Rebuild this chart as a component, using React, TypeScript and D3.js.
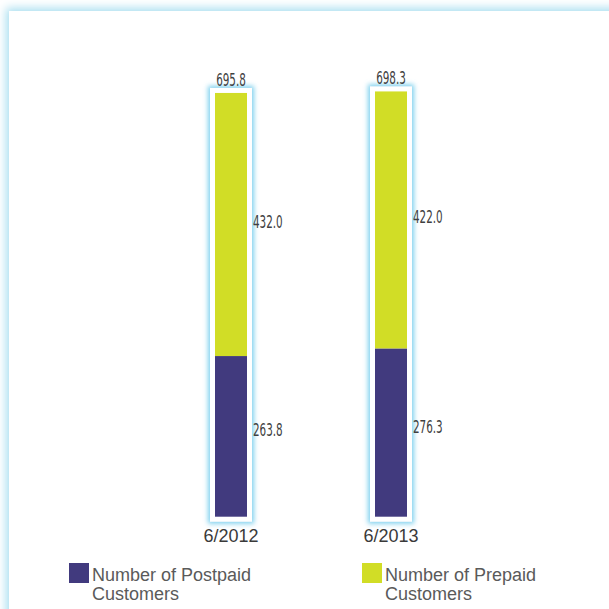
import React from "react";
import * as d3 from "d3";

const categories = ["6/2012", "6/2013"];
const postpaid = [263.8, 276.3];
const prepaid = [432.0, 422.0];
const totals = ["695.8", "698.3"];
const postpaidLabels = ["263.8", "276.3"];
const prepaidLabels = ["432.0", "422.0"];
const seriesNames = [
  ["Number of Postpaid", "Customers"],
  ["Number of Prepaid", "Customers"],
];
const seriesColors = ["#413a7e", "#d1dd26"];

const W = 609;
const H = 609;

export default function App() {
  const x = d3.scalePoint<string>().domain(categories).range([231, 391]);
  const y = d3.scaleLinear().domain([0, 700]).range([516.7, 90.4]);
  const barW = 32;
  const pad = 5;
  const stack = d3.stack<any>().keys(["post", "pre"])(
    categories.map((c, i) => ({ cat: c, post: postpaid[i], pre: prepaid[i] }))
  );
  const legendX = [69, 362];
  const numFont = "'DejaVu Sans Condensed', 'Liberation Sans Narrow', sans-serif";

  return (
    <div style={{ position: "fixed", left: 0, top: 0 }}>
      <svg width={W} height={H} style={{ display: "block" }}>
        <defs>
          <filter id="panelGlow" x="-10%" y="-10%" width="120%" height="120%">
            <feMorphology in="SourceAlpha" operator="dilate" radius="3" result="d" />
            <feGaussianBlur in="d" stdDeviation="5" result="b" />
            <feFlood floodColor="#a9dff0" />
            <feComposite in2="b" operator="in" result="s" />
            <feMerge>
              <feMergeNode in="s" />
              <feMergeNode in="SourceGraphic" />
            </feMerge>
          </filter>
          <filter id="barGlow" x="-50%" y="-5%" width="200%" height="110%">
            <feMorphology in="SourceAlpha" operator="dilate" radius="1.5" result="d" />
            <feGaussianBlur in="d" stdDeviation="2.5" result="b" />
            <feFlood floodColor="#7dd0ee" />
            <feComposite in2="b" operator="in" result="s" />
            <feMerge>
              <feMergeNode in="s" />
              <feMergeNode in="SourceGraphic" />
            </feMerge>
          </filter>
        </defs>
        <rect x={0} y={0} width={W} height={H} fill="#ffffff" />
        <rect x={9} y={11} width={W + 50} height={H + 50} fill="#ffffff" filter="url(#panelGlow)" />

        {categories.map((c, i) => {
          const cx = x(c)!;
          const top = y(postpaid[i] + prepaid[i]);
          return (
            <rect
              key={"f" + c}
              x={cx - barW / 2 - pad}
              y={top - pad}
              width={barW + 2 * pad}
              height={y(0) - top + 2 * pad}
              fill="#ffffff"
              filter="url(#barGlow)"
            />
          );
        })}

        {stack.map((layer, li) =>
          layer.map((d, i) => {
            const cx = x(categories[i])!;
            return (
              <rect
                key={li + "-" + i}
                x={cx - barW / 2}
                y={y(d[1])}
                width={barW}
                height={y(d[0]) - y(d[1])}
                fill={seriesColors[li]}
              />
            );
          })
        )}

        {categories.map((c, i) => {
          const cx = x(c)!;
          const top = y(postpaid[i] + prepaid[i]);
          const lx = cx + barW / 2 + pad + 1;
          const midPost = (y(0) + y(postpaid[i])) / 2 - 6;
          const midPre = (y(postpaid[i]) + top) / 2 - 3;
          const txt = (tx: number, ty: number, s: string, anchor: string) => (
            <text
              transform={`translate(${tx},${ty}) scale(0.68,1)`}
              textAnchor={anchor}
              fontFamily={numFont}
              fontSize={17}
              fill="#404040"
            >
              {s}
            </text>
          );
          return (
            <g key={"l" + c}>
              {txt(cx, top - 7, totals[i], "middle")}
              {txt(lx, midPre + 6, prepaidLabels[i], "start")}
              {txt(lx, midPost + 6, postpaidLabels[i], "start")}
              <text
                x={cx}
                y={542}
                textAnchor="middle"
                fontFamily="'Liberation Sans', sans-serif"
                fontSize={18}
                fill="#3a3a3a"
              >
                {c}
              </text>
            </g>
          );
        })}

        {seriesNames.map((lines, i) => (
          <g key={"lg" + i}>
            <rect x={legendX[i]} y={563} width={20} height={20} fill={seriesColors[i]} />
            {lines.map((ln, j) => (
              <text
                key={j}
                x={legendX[i] + 23}
                y={581 + j * 19}
                fontFamily="'Liberation Sans', sans-serif"
                fontSize={18}
                fill="#5a5a5a"
              >
                {ln}
              </text>
            ))}
          </g>
        ))}
      </svg>
    </div>
  );
}
